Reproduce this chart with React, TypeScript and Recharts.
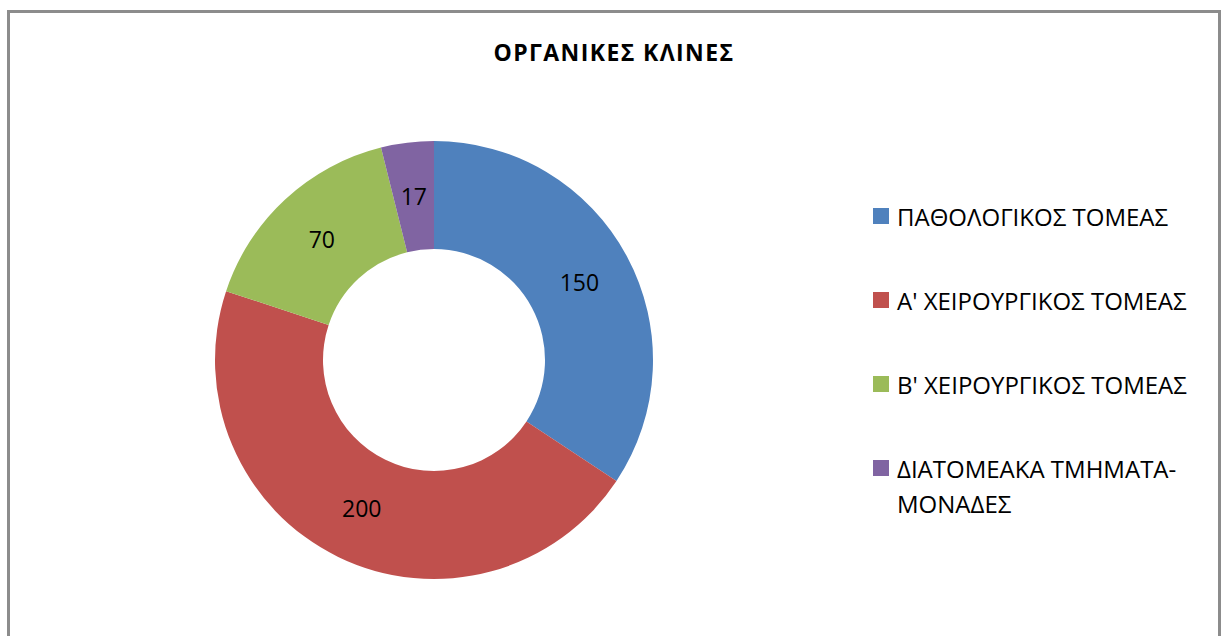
import React from 'react';
import { PieChart, Pie, Cell, Legend } from 'recharts';

const sectors = ['ΠΑΘΟΛΟΓΙΚΟΣ ΤΟΜΕΑΣ', "Α' ΧΕΙΡΟΥΡΓΙΚΟΣ ΤΟΜΕΑΣ", "Β' ΧΕΙΡΟΥΡΓΙΚΟΣ ΤΟΜΕΑΣ", 'ΔΙΑΤΟΜΕΑΚΑ ΤΜΗΜΑΤΑ-ΜΟΝΑΔΕΣ'];
const beds = [150, 200, 70, 17];
const colors = ['#4F81BD', '#C0504D', '#9BBB59', '#8064A2'];

const data = sectors.map((name, i) => ({ name, value: beds[i] }));

const FONT = '"Open Sans", "Noto Sans", sans-serif';
const RADIAN = Math.PI / 180;

const renderLabel = ({ cx, cy, midAngle, innerRadius, outerRadius, value }: any) => {
  const r = (innerRadius + outerRadius) / 2;
  const x = cx + r * Math.cos(-midAngle * RADIAN);
  const y = cy + r * Math.sin(-midAngle * RADIAN);
  return (
    <text x={x} y={y} fill="#000" textAnchor="middle" dominantBaseline="central" fontSize={23} fontFamily={FONT}>
      {value}
    </text>
  );
};

// legend keeps the series order (recharts reorders the payload)
const CustomLegend = () => (
  <div style={{ fontFamily: FONT, fontSize: 24, color: '#000' }}>
    {data.map((d, i) => (
      <div key={d.name} style={{ display: 'flex', alignItems: 'flex-start', height: 84 }}>
        <span style={{ display: 'inline-block', width: 16, height: 16, background: colors[i], marginTop: 9, marginRight: 8, flexShrink: 0 }} />
        <span style={{ width: 305, lineHeight: '35px' }}>{d.name}</span>
      </div>
    ))}
  </div>
);

const App: React.FC = () => (
  <div
    style={{
      position: 'absolute',
      left: 7,
      top: 10,
      width: 1208,
      height: 626,
      border: '3px solid #8c8c8c',
      borderBottom: 'none',
      background: '#fff',
    }}
  >
    <div
      style={{
        position: 'absolute',
        top: 23,
        left: 0,
        width: '100%',
        textAlign: 'center',
        fontFamily: FONT,
        fontWeight: 700,
        fontSize: 23,
        letterSpacing: 1.4,
        color: '#000',
      }}
    >
      ΟΡΓΑΝΙΚΕΣ ΚΛΙΝΕΣ
    </div>
    <PieChart width={1208} height={623}>
      <Pie
        data={data}
        dataKey="value"
        nameKey="name"
        cx={419}
        cy={342}
        innerRadius={111}
        outerRadius={219}
        startAngle={90}
        endAngle={-270}
        stroke="none"
        label={renderLabel}
        labelLine={false}
        isAnimationActive={false}
      >
        {data.map((d, i) => (
          <Cell key={d.name} fill={colors[i]} />
        ))}
      </Pie>
      <Legend
        layout="vertical"
        content={<CustomLegend />}
        wrapperStyle={{ left: 863, top: 186, width: 345 }}
      />
    </PieChart>
  </div>
);

export default App;
